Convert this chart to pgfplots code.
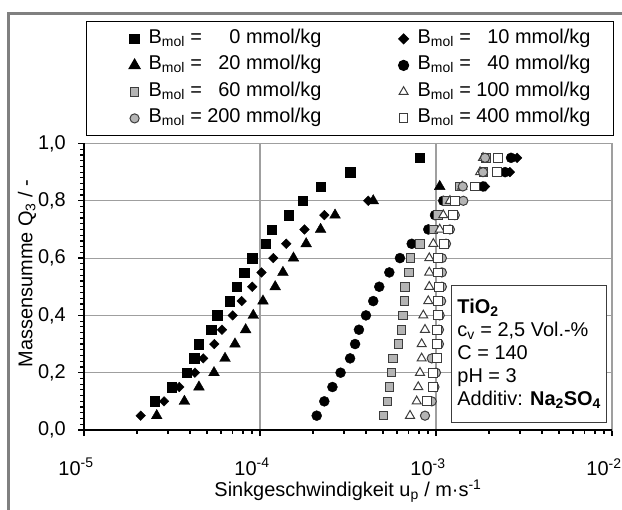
\documentclass[border=0pt]{standalone}
\usepackage{fontspec}
\setmainfont{Liberation Sans}
\usepackage{pgfplots}
\pgfplotsset{compat=1.18}
\definecolor{gfill}{HTML}{B4B4B4}
\definecolor{gedge}{HTML}{3C3C3C}
\definecolor{framegray}{HTML}{808080}
\newcommand{\Bmol}[2]{\makebox[#1][l]{B\textsubscript{mol} = \makebox[33bp][r]{#2} mmol/kg}}
\begin{document}
\begin{tikzpicture}[font=\fontsize{20}{23}\selectfont]
\useasboundingbox (0,0) rectangle (622bp,510bp);
\draw[framegray, line width=3bp] (8bp,0) -- (8bp,496.5bp) -- (622bp,496.5bp);
\begin{axis}[
  at={(84bp,80bp)}, anchor=south west,
  scale only axis, width=528bp, height=286.5bp,
  xmode=log, xmin=1e-5, xmax=1e-2, ymin=0, ymax=1,
  xtick={1e-5,1e-4,1e-3,1e-2},
  xticklabels={10\textsuperscript{-5},10\textsuperscript{-4},10\textsuperscript{-3},10\textsuperscript{-2}},
  minor xtick={2e-5,3e-5,4e-5,5e-5,6e-5,7e-5,8e-5,9e-5,2e-4,3e-4,4e-4,5e-4,6e-4,7e-4,8e-4,9e-4,2e-3,3e-3,4e-3,5e-3,6e-3,7e-3,8e-3,9e-3},
  ytick={0,0.2,0.4,0.6,0.8,1},
  yticklabels={{0,0},{0,2},{0,4},{0,6},{0,8},{1,0}},
  minor y tick num=9,
  tick align=outside, xtick pos=left, ytick pos=left,
  major tick length=6bp, minor tick length=3.5bp,
  every tick/.style={black, line width=1.2bp},
  grid=major, major grid style={color=gray!75, line width=1.1bp},
  axis line style={gray!75, line width=1.3bp},
  xticklabel style={anchor=center, inner sep=0pt, xshift=-8bp, yshift=-31bp},
  yticklabel style={anchor=east, inner sep=0pt, xshift=-12bp},
  xlabel={Sinkgeschwindigkeit u\textsubscript{p} / m·s\textsuperscript{-1}},
  ylabel={Massensumme Q\textsubscript{3} / -},
  every axis x label/.style={at={(axis description cs:0.5,-0.2129)}, anchor=center},
  every axis y label/.style={at={(axis description cs:-0.108,0.546)}, rotate=90, anchor=center},
  legend columns=2,
  legend style={at={(0.0038,1)}, anchor=south west, yshift=7.5bp,
    draw=black, line width=1.2bp, inner xsep=42bp, inner ysep=7.5bp,
    nodes={inner sep=0pt, text height=14bp, text depth=5bp},
    row sep=7.5bp,
    /tikz/every odd column/.append style={column sep=8bp},
    /tikz/every even column/.append style={column sep=9bp}},
  legend image code/.code={\path[draw=none, fill=none] (0bp,-4bp) rectangle (12bp,4bp);
    \draw[#1] plot coordinates {(6bp,0bp)};},
  clip=false,
]
% B = 0
\addplot[only marks, mark=square*, mark size=4.7bp, mark options={fill=black, draw=black}] coordinates {
(2.53e-5,0.10)(3.15e-5,0.15)(3.83e-5,0.20)(4.23e-5,0.25)(4.50e-5,0.30)(5.29e-5,0.35)(5.72e-5,0.40)(6.73e-5,0.45)(7.40e-5,0.50)(8.14e-5,0.55)(9.04e-5,0.60)(1.08e-4,0.65)(1.17e-4,0.70)(1.46e-4,0.75)(1.75e-4,0.80)(2.22e-4,0.85)(3.25e-4,0.90)(8.11e-4,0.95)};
\addlegendentry{\Bmol{240bp}{0}}
% B = 10
\addplot[only marks, mark=square*, mark size=3.4bp, mark options={rotate=45, fill=black, draw=black}] coordinates {
(2.10e-5,0.05)(2.85e-5,0.10)(3.48e-5,0.15)(4.27e-5,0.20)(4.76e-5,0.25)(5.50e-5,0.30)(6.08e-5,0.35)(7.00e-5,0.40)(7.87e-5,0.45)(9.04e-5,0.50)(1.02e-4,0.55)(1.19e-4,0.60)(1.41e-4,0.65)(1.79e-4,0.70)(2.32e-4,0.75)(4.12e-4,0.80)(1.90e-3,0.85)(2.63e-3,0.90)(2.89e-3,0.95)};
\addlegendentry{\Bmol{154bp}{10}}
% B = 20
\addplot[only marks, mark=triangle*, mark size=6.2bp, mark options={fill=black, draw=black}] coordinates {
(2.59e-5,0.05)(3.72e-5,0.10)(4.50e-5,0.15)(5.48e-5,0.20)(6.33e-5,0.25)(7.21e-5,0.30)(8.29e-5,0.35)(9.16e-5,0.40)(1.04e-4,0.45)(1.22e-4,0.50)(1.35e-4,0.55)(1.55e-4,0.60)(1.83e-4,0.65)(2.21e-4,0.70)(2.67e-4,0.75)(4.40e-4,0.80)(1.05e-3,0.85)};
\addlegendentry{\Bmol{240bp}{20}}
% B = 40
\addplot[only marks, mark=*, mark size=5bp, mark options={fill=black, draw=black}] coordinates {
(2.10e-4,0.05)(2.32e-4,0.10)(2.58e-4,0.15)(2.87e-4,0.20)(3.25e-4,0.25)(3.47e-4,0.30)(3.65e-4,0.35)(4.00e-4,0.40)(4.40e-4,0.45)(4.76e-4,0.50)(5.43e-4,0.55)(6.24e-4,0.60)(7.28e-4,0.65)(9.04e-4,0.70)(9.87e-4,0.75)(1.10e-3,0.80)(1.85e-3,0.85)(2.47e-3,0.90)(2.67e-3,0.95)};
\addlegendentry{\Bmol{154bp}{40}}
% B = 60
\addplot[only marks, mark=square*, mark size=4.3bp, mark options={fill=gfill, draw=gedge, line width=1bp}] coordinates {
(5.02e-4,0.05)(5.29e-4,0.10)(5.43e-4,0.15)(5.60e-4,0.20)(5.72e-4,0.25)(6.11e-4,0.30)(6.38e-4,0.35)(6.52e-4,0.40)(6.61e-4,0.45)(6.67e-4,0.50)(7.05e-4,0.55)(7.18e-4,0.60)(8.11e-4,0.65)(9.66e-4,0.70)(1.03e-3,0.75)(1.15e-3,0.80)(1.37e-3,0.85)(1.86e-3,0.90)(1.92e-3,0.95)};
\addlegendentry{\Bmol{240bp}{60}}
% B = 100
\addplot[only marks, mark=triangle*, mark size=5.2bp, mark options={fill=white, draw=gedge, line width=1bp}] coordinates {
(7.12e-4,0.05)(7.77e-4,0.10)(7.93e-4,0.15)(8.11e-4,0.20)(8.29e-4,0.25)(8.29e-4,0.30)(8.66e-4,0.35)(8.47e-4,0.40)(9.04e-4,0.45)(9.16e-4,0.50)(9.16e-4,0.55)(9.16e-4,0.60)(9.66e-4,0.65)(1.05e-3,0.70)(1.10e-3,0.75)(1.20e-3,0.80)(1.41e-3,0.85)(1.78e-3,0.90)(1.85e-3,0.95)};
\addlegendentry{\Bmol{154bp}{100}}
% B = 200
\addplot[only marks, mark=*, mark size=4.6bp, mark options={fill=gfill, draw=gedge, line width=1bp}] coordinates {
(8.66e-4,0.05)(9.46e-4,0.10)(9.80e-4,0.15)(1.00e-3,0.20)(9.46e-4,0.25)(1.04e-3,0.30)(1.04e-3,0.35)(1.05e-3,0.40)(1.07e-3,0.45)(1.08e-3,0.50)(1.08e-3,0.55)(1.08e-3,0.60)(1.14e-3,0.65)(1.20e-3,0.70)(1.28e-3,0.75)(1.43e-3,0.80)(1.42e-3,0.85)(1.85e-3,0.90)(1.90e-3,0.95)};
\addlegendentry{\Bmol{240bp}{200}}
% B = 400
\addplot[only marks, mark=square*, mark size=4.4bp, mark options={fill=white, draw=gedge, line width=1bp}] coordinates {
(8.85e-4,0.10)(9.66e-4,0.15)(9.66e-4,0.20)(1.01e-3,0.25)(1.01e-3,0.30)(1.01e-3,0.35)(1.03e-3,0.40)(1.03e-3,0.45)(1.04e-3,0.50)(1.03e-3,0.55)(1.03e-3,0.60)(1.11e-3,0.65)(1.17e-3,0.70)(1.25e-3,0.75)(1.28e-3,0.80)(1.67e-3,0.85)(2.21e-3,0.90)(2.24e-3,0.95)};
\addlegendentry{\Bmol{154bp}{400}}
\node[draw=gedge, line width=1bp, fill=white, anchor=north west, minimum width=153bp, minimum height=137bp, inner xsep=6bp, align=left]
  at (rel axis cs:0.695,0.506)
  {\textbf{TiO\textsubscript{2}}\\ c\textsubscript{v} = 2,5 Vol.-\%\\ C = 140\\ pH = 3\\ Additiv: \textbf{Na\textsubscript{2}SO\textsubscript{4}}};
\end{axis}
\begin{scope}[shift={(84bp,80bp)}]
\draw[black, line width=2bp] (0,286.5bp) -- (0,0) -- (528bp,0);
\end{scope}
\end{tikzpicture}
\end{document}
